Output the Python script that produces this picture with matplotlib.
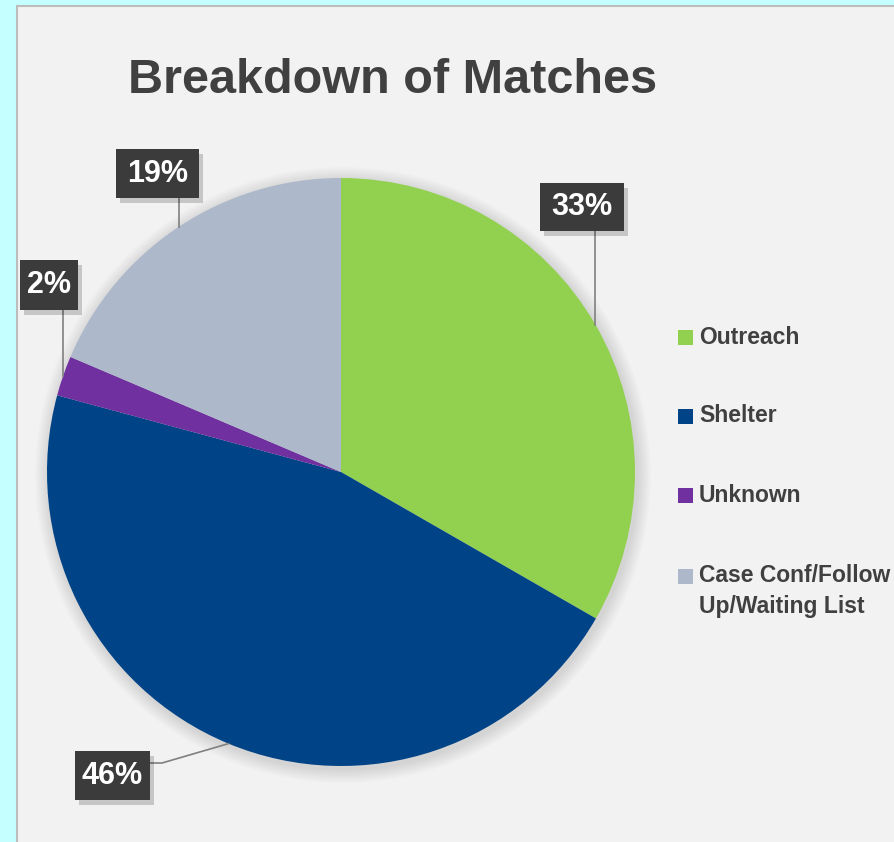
import numpy as np
import matplotlib
matplotlib.use('Agg')
import matplotlib.pyplot as plt
from matplotlib.patches import Rectangle, Circle

plt.rcParams['font.family'] = ['Liberation Sans', 'DejaVu Sans']

categories = ['Outreach', 'Shelter', 'Unknown', 'Case Conf/Follow\nUp/Waiting List']
shares = [33.3, 45.9, 2.2, 18.6]
colors = ['#92d050', '#004386', '#7030a0', '#adb9ca']

W, H = 894, 842
def Y(p):
    return H - p

fig = plt.figure(figsize=(W / 100, H / 100), dpi=100)
fig.patch.set_facecolor('#c6ffff')
ax = fig.add_axes([0, 0, 1, 1])

# panel
ax.add_patch(Rectangle((17, Y(900)), 1000, 894, facecolor='#f2f2f2',
                       edgecolor='#bdbdbd', linewidth=1.5, zorder=0))

cx, cy, r = 341, Y(472), 294

# soft shadow around the pie
for k in range(10):
    ax.add_patch(Circle((cx + 2, cy - 3), r + 14 - k * 1.4, facecolor='#000000',
                        alpha=0.012, edgecolor='none', zorder=1))

wedges, _ = ax.pie(shares, colors=colors, startangle=90, counterclock=False,
                   center=(cx, cy), radius=r, wedgeprops=dict(linewidth=0, zorder=2))

ax.set_xlim(0, W)
ax.set_ylim(0, H)
ax.set_aspect('auto')
ax.axis('off')

ax.text(393, Y(93), 'Breakdown of Matches', ha='center', va='baseline',
        fontsize=35, fontweight='bold', color='#404040')

# data labels: box centre, box size (pixels)
boxes = [((582, 207), (84, 48)),
         ((112.5, 775.5), (75, 49)),
         ((49, 285), (58, 50)),
         ((157.5, 173.5), (83, 49))]

for w, s, (c, size) in zip(wedges, shares, boxes):
    mid = np.deg2rad((w.theta1 + w.theta2) / 2)
    px, py = cx + r * np.cos(mid), cy + r * np.sin(mid)
    bx, by = c[0], Y(c[1])
    bw, bh = size
    if py < by:
        ax.plot([px, px], [py, by - bh / 2], color='#808080', lw=1.2, zorder=3)
    else:
        ey = by + 12.5
        ax.plot([px, bx + bw / 2 + 12, bx + bw / 2], [py, ey, ey],
                color='#808080', lw=1.2, zorder=3)
    ax.add_patch(Rectangle((bx - bw / 2 + 4, by - bh / 2 - 5), bw, bh,
                           facecolor='#000000', alpha=0.18, edgecolor='none', zorder=4))
    ax.add_patch(Rectangle((bx - bw / 2, by - bh / 2), bw, bh,
                           facecolor='#3b3b3b', edgecolor='none', zorder=5))
    ax.text(bx, by, '{:.0f}%'.format(s), ha='center', va='center',
            fontsize=22, fontweight='bold', color='white', zorder=6)

# legend
leg_y = [337, 416, 495, 576]
for lab, col, ly in zip(categories, colors, leg_y):
    ax.add_patch(Rectangle((678, Y(ly) - 7.5), 15, 15, facecolor=col, edgecolor='none'))
    if '\n' in lab:
        ax.text(699, Y(ly) + 12, lab, ha='left', va='top', fontsize=16.5,
                fontweight='bold', color='#404040', linespacing=1.45)
    else:
        ax.text(699, Y(ly), lab, ha='left', va='center', fontsize=16.5,
                fontweight='bold', color='#404040')

fig.savefig('out.png', dpi=100, facecolor=fig.get_facecolor())
